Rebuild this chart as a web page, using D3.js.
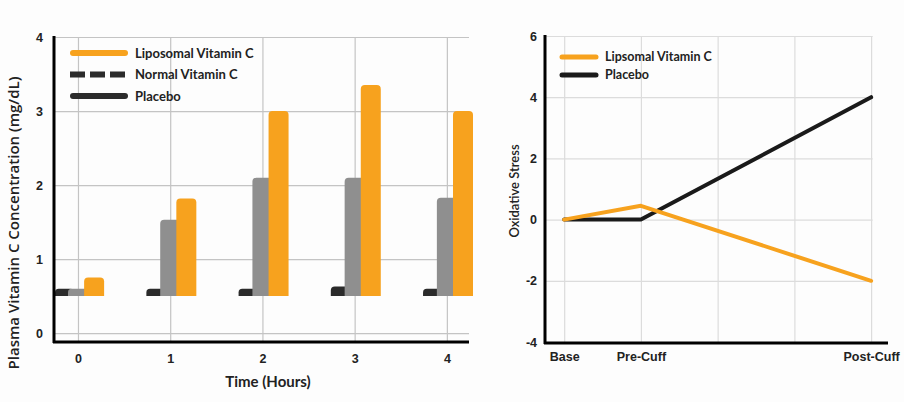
<!DOCTYPE html>
<html>
<head>
<meta charset="utf-8">
<script src="https://cdn.jsdelivr.net/npm/d3@7"></script>
<style>
  body { margin: 0; background: #fdfdfd; }
  svg { display: block; font-family: Lato, 'Open Sans', sans-serif; }
  .grid line { stroke: #c4c4c4; stroke-width: 1.2; }
  .grid2 line { stroke: #dcdcdc; stroke-width: 1.2; }
  .grid .domain, .grid2 .domain, .ticks .domain { display: none; }
  .ticks line { display: none; }
  .ticks text { font-size: 12.5px; font-weight: 700; fill: #222; }
</style>
</head>
<body>
<div id="chart"></div>
<script>
// left panel: plasma vitamin C by hour
const hours = [0, 1, 2, 3, 4]
const liposomal = [0.75, 1.82, 3.0, 3.35, 3.0]
const normalVitC = [0.6, 1.53, 2.1, 2.1, 1.83]
const placebo = [0.6, 0.6, 0.6, 0.63, 0.6]
const barBase = 0.5
const concTicks = [0, 1, 2, 3, 4]

// right panel: oxidative stress
const phaseLabels = ['Base', 'Pre-Cuff', 'Post-Cuff']
const phasePos = [0, 1, 4]
const stressLipo = [0, 0.45, -2]
const stressPlacebo = [0, 0, 4]
const stressTicks = [-4, -2, 0, 2, 4, 6]
const phaseGrid = [0, 1, 2, 3, 4]

const orange = '#f7a21e'
const grey = '#8f8f8f'
const dark = '#2b2b2b'

const svg = d3.select('#chart').append('svg')
  .attr('width', 904)
  .attr('height', 402)

// rounded-top bar path
const barPath = (x0, w, yTop, yBot, r) => {
  r = Math.min(r, (yBot - yTop) / 2, w / 2)
  return `M${x0},${yBot}V${yTop + r}Q${x0},${yTop} ${x0 + r},${yTop}` +
    `H${x0 + w - r}Q${x0 + w},${yTop} ${x0 + w},${yTop + r}V${yBot}Z`
}

const drawBars = () => {
  const x = d3.scaleLinear().domain([-0.26, 4.24]).range([54, 469])
  const y = d3.scaleLinear().domain([-0.12, 4]).range([342, 37])
  const g = svg.append('g')

  g.append('g')
    .attr('class', 'grid')
    .attr('transform', 'translate(54,0)')
    .call(d3.axisLeft(y).tickValues(concTicks).tickSize(-415).tickFormat(''))

  g.append('g')
    .attr('class', 'grid')
    .attr('transform', 'translate(0,342)')
    .call(d3.axisBottom(x).tickValues(hours).tickSize(-305).tickFormat(''))

  const series = [
    { vals: placebo, off: -0.15, color: dark },
    { vals: normalVitC, off: 0, color: grey },
    { vals: liposomal, off: 0.175, color: orange }
  ]
  const bw = 20
  series.forEach(s => {
    g.append('g').selectAll('path')
      .data(hours)
      .join('path')
      .attr('fill', s.color)
      .attr('d', (h, i) => {
        const x0 = Math.max(55, x(h + s.off) - bw / 2)
        return barPath(x0, x(h + s.off) + bw / 2 - x0, y(s.vals[i]), y(barBase), 4)
      })
  })

  g.append('g')
    .attr('class', 'ticks')
    .attr('transform', 'translate(49,0)')
    .call(d3.axisLeft(y).tickValues(concTicks).tickSize(0).tickPadding(6).tickFormat(d3.format('d')))

  g.append('g')
    .attr('class', 'ticks')
    .attr('transform', 'translate(0,344)')
    .call(d3.axisBottom(x).tickValues(hours).tickSize(0).tickPadding(10).tickFormat(d3.format('d')))

  // axis lines
  g.append('line').attr('x1', 54).attr('x2', 54).attr('y1', 36).attr('y2', 343)
    .attr('stroke', '#000').attr('stroke-width', 3)
  g.append('line').attr('x1', 53).attr('x2', 469).attr('y1', 342).attr('y2', 342)
    .attr('stroke', '#000').attr('stroke-width', 3)

  g.append('text')
    .attr('transform', 'translate(19,223) rotate(-90)')
    .attr('text-anchor', 'middle')
    .attr('font-family', "'Open Sans', sans-serif")
    .attr('font-size', 15)
    .attr('font-weight', 600)
    .attr('fill', '#222')
    .text('Plasma Vitamin C Concentration (mg/dL)')

  g.append('text')
    .attr('x', 268).attr('y', 387)
    .attr('text-anchor', 'middle')
    .attr('font-size', 15)
    .attr('font-weight', 700)
    .attr('fill', '#222')
    .text('Time (Hours)')

  const legend = [
    { name: 'Liposomal Vitamin C', color: orange, dash: null },
    { name: 'Normal Vitamin C', color: dark, dash: '15,5' },
    { name: 'Placebo', color: dark, dash: null }
  ]
  const lg = g.append('g').selectAll('g')
    .data(legend)
    .join('g')
    .attr('transform', (d, i) => `translate(0,${53 + i * 21.5})`)
  lg.append('line')
    .attr('x1', d => d.dash ? 70 : 73).attr('x2', d => d.dash ? 128 : 125)
    .attr('stroke', d => d.color)
    .attr('stroke-width', 6)
    .attr('stroke-linecap', d => d.dash ? 'butt' : 'round')
    .attr('stroke-dasharray', d => d.dash)
  lg.append('text')
    .attr('x', 135).attr('dy', '0.35em')
    .attr('font-size', 13)
    .attr('font-weight', 700)
    .attr('fill', '#222')
    .text(d => d.name)
}

const drawLines = () => {
  const x = d3.scaleLinear().domain([-0.25, 4.22]).range([545, 888])
  const y = d3.scaleLinear().domain([-4, 6]).range([342, 36])
  const g = svg.append('g')

  g.append('g')
    .attr('class', 'grid2')
    .attr('transform', 'translate(545,0)')
    .call(d3.axisLeft(y).tickValues(stressTicks.filter(t => t > -4)).tickSize(-(x(4.02) - 545)).tickFormat(''))

  g.append('g')
    .attr('class', 'grid2')
    .attr('transform', 'translate(0,342)')
    .call(d3.axisBottom(x).tickValues(phaseGrid).tickSize(-306).tickFormat(''))

  g.append('g')
    .attr('class', 'ticks')
    .attr('transform', 'translate(541,0)')
    .call(d3.axisLeft(y).tickValues(stressTicks).tickSize(0).tickPadding(4).tickFormat(d => String(d)))

  g.append('g')
    .attr('class', 'ticks')
    .attr('transform', 'translate(0,344)')
    .call(d3.axisBottom(x).tickValues(phasePos).tickSize(0).tickPadding(8)
      .tickFormat((d, i) => phaseLabels[i]))

  g.append('line').attr('x1', 545).attr('x2', 545).attr('y1', 35).attr('y2', 344)
    .attr('stroke', '#000').attr('stroke-width', 3)
  g.append('line').attr('x1', 544).attr('x2', 888).attr('y1', 343).attr('y2', 343)
    .attr('stroke', '#000').attr('stroke-width', 3)

  const line = d3.line()
    .x((d, i) => x(phasePos[i]))
    .y(d => y(d))

  g.append('path')
    .datum(stressPlacebo)
    .attr('fill', 'none')
    .attr('stroke', '#1a1a1a')
    .attr('stroke-width', 4)
    .attr('stroke-linecap', 'round')
    .attr('stroke-linejoin', 'round')
    .attr('d', line)

  g.append('path')
    .datum(stressLipo)
    .attr('fill', 'none')
    .attr('stroke', orange)
    .attr('stroke-width', 4)
    .attr('stroke-linecap', 'round')
    .attr('stroke-linejoin', 'round')
    .attr('d', line)

  g.append('text')
    .attr('transform', 'translate(519,191) rotate(-90)')
    .attr('text-anchor', 'middle')
    .attr('font-size', 13)
    .attr('font-weight', 600)
    .attr('fill', '#222')
    .text('Oxidative Stress')

  const legend = [
    { name: 'Lipsomal Vitamin C', color: orange },
    { name: 'Placebo', color: '#1a1a1a' }
  ]
  const lg = g.append('g').selectAll('g')
    .data(legend)
    .join('g')
    .attr('transform', (d, i) => `translate(0,${57 + i * 18})`)
  lg.append('line')
    .attr('x1', 562).attr('x2', 596)
    .attr('stroke', d => d.color)
    .attr('stroke-width', 5)
    .attr('stroke-linecap', 'round')
  lg.append('text')
    .attr('x', 605).attr('dy', '0.35em')
    .attr('font-size', 12.5)
    .attr('font-weight', 700)
    .attr('fill', '#222')
    .text(d => d.name)
}

drawBars()
drawLines()
</script>
</body>
</html>
